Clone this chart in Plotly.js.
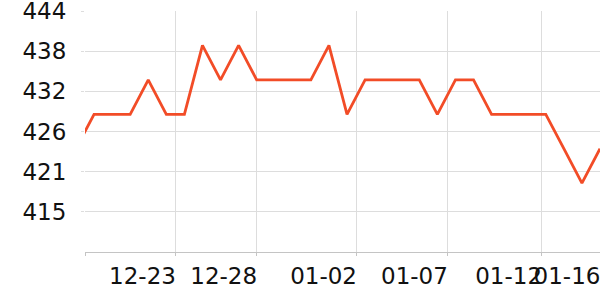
<!DOCTYPE html>
<html>
<head>
<meta charset="utf-8">
<script src="https://cdn.plot.ly/plotly-3.0.1.min.js"></script>
<style>html,body{margin:0;padding:0;background:#fff}#chart{width:600px;height:300px}</style>
</head>
<body>
<div id="chart"></div>
<script>
const dates = ['2023-12-18','2023-12-19','2023-12-20','2023-12-21','2023-12-22','2023-12-23','2023-12-24','2023-12-25','2023-12-26','2023-12-27',
  '2023-12-28','2023-12-29','2023-12-30','2023-12-31','2024-01-01','2024-01-02','2024-01-03','2024-01-04','2024-01-05','2024-01-06',
  '2024-01-07','2024-01-08','2024-01-09','2024-01-10','2024-01-11','2024-01-12','2024-01-13','2024-01-14','2024-01-15','2024-01-16'];
const values = [424,429,429,429,434,429,429,439,434,439,
  434,434,434,434,439,429,434,434,434,434,
  429,434,434,429,429,429,429,424,419,424];
const xTickLabels = ['', '12-23', '12-28', '01-02', '01-07', '01-12', '01-16'];
const xTickPositions = ['2023-12-18 12:00','2023-12-23 12:14','2023-12-28 00:00','2024-01-02 12:43','2024-01-07 13:26','2024-01-12 18:29','2024-01-16 00:00'];
const yTickLabels = ['415','421','426','432','438','444'];
const yTickPositions = [414.833,420.667,426.5,432.333,438.167,444];

const trace = {
  x: dates, y: values, type: 'scatter', mode: 'lines',
  line: {color: '#f24c27', width: 2.8},
  hoverinfo: 'none'
};
const tickFont = {family: 'DejaVu Sans', size: 23, color: '#111'};
const layout = {
  width: 600, height: 300,
  margin: {l: 85, r: 0, t: 11, b: 48},
  paper_bgcolor: '#fff', plot_bgcolor: '#fff',
  showlegend: false,
  font: {family: 'DejaVu Sans', size: 23, color: '#111'},
  xaxis: {
    type: 'date',
    range: ['2023-12-18 12:00', '2024-01-16 00:00'],
    tickmode: 'array', tickvals: xTickPositions, ticktext: xTickLabels,
    tickfont: tickFont, tickangle: 0,
    showgrid: true, gridcolor: '#dddddd', gridwidth: 1,
    showline: true, linecolor: '#c4c4c4', linewidth: 1,
    ticks: 'outside', ticklen: 3, tickcolor: '#c4c4c4',
    ticklabelshift: -33, ticklabeloverflow: 'allow',
    automargin: false,
    zeroline: false
  },
  yaxis: {
    range: [409, 444],
    tickmode: 'array', tickvals: yTickPositions, ticktext: yTickLabels,
    tickfont: tickFont,
    showgrid: true, gridcolor: '#dddddd', gridwidth: 1,
    showline: false,
    ticks: 'outside', ticklen: 3, tickcolor: '#dddddd',
    ticklabelstandoff: 10, ticklabeloverflow: 'allow',
    automargin: false,
    zeroline: false
  }
};
Plotly.newPlot('chart', [trace], layout, {staticPlot: true, displayModeBar: false});
</script>
</body>
</html>
